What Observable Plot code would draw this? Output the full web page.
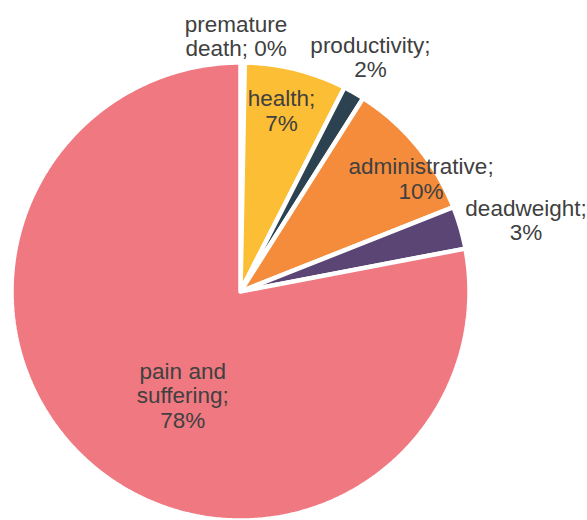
<!DOCTYPE html>
<html>
<head>
<meta charset="utf-8">
<script src="https://cdn.jsdelivr.net/npm/d3@7"></script>
<script src="https://cdn.jsdelivr.net/npm/@observablehq/plot@0.6"></script>
<style>
  html, body { margin: 0; padding: 0; background: #fff; }
  #chart svg { display: block; }
</style>
</head>
<body>
<div id="chart"></div>
<script>
// ---- data ----
const categories = ["premature death", "health", "productivity", "administrative", "deadweight", "pain and suffering"];
const values = [0.3, 7.2, 1.5, 10, 3, 78];
const labels = ["premature\ndeath; 0%", "health;\n7%", "productivity;\n2%", "administrative;\n10%", "deadweight;\n3%", "pain and\nsuffering;\n78%"];
const colors = ["#f07a81", "#fbbe34", "#2d4250", "#f58c3c", "#5b4575", "#f07880"];

// ---- layout ----
const W = 587, H = 520, cx = 240, cy = 291, R = 229;
// label placement: angle in degrees (clockwise from 12 o'clock), radius as fraction of R
const labelPos = [
  {a: -1, r: 1.115},
  {a: 12.8, r: 0.81},
  {a: 29, r: 1.17},
  {a: 58, r: 0.93},
  {a: 76, r: 1.285},
  {a: 209, r: 0.52}
];

const rows = categories.map((c, i) => ({cat: c, value: values[i], label: labels[i]}));
const arcs = d3.pie().sort(null).value(d => d.value)(rows);

// polygon points for each slice
const poly = [];
arcs.forEach(a => {
  const c = a.data.cat;
  poly.push({cat: c, x: 0, y: 0});
  const n = Math.max(2, Math.ceil((a.endAngle - a.startAngle) / (Math.PI / 360)));
  for (let k = 0; k <= n; k++) {
    const t = a.startAngle + (a.endAngle - a.startAngle) * k / n;
    poly.push({cat: c, x: R * Math.sin(t), y: R * Math.cos(t)});
  }
  poly.push({cat: c, x: 0, y: 0});
});

const textRows = rows.map((d, i) => {
  const t = labelPos[i].a * Math.PI / 180;
  return {label: d.label, x: labelPos[i].r * R * Math.sin(t), y: labelPos[i].r * R * Math.cos(t)};
});

const chart = Plot.plot({
  width: W,
  height: H,
  margin: 0,
  x: {domain: [-cx, W - cx], axis: null},
  y: {domain: [-(H - cy), cy], axis: null},
  color: {domain: categories, range: colors},
  style: {background: "#fff", fontFamily: "'Liberation Sans', Arial, sans-serif"},
  marks: [
    Plot.line(poly, {x: "x", y: "y", z: "cat", fill: "cat", stroke: "#fff", strokeWidth: 4.5, strokeLinejoin: "miter", curve: "linear"}),
    Plot.text(textRows, {x: "x", y: "y", text: "label", fontSize: 22.5, lineHeight: 1.08, fill: "#404040", textAnchor: "middle"})
  ]
});
document.getElementById("chart").appendChild(chart);
</script>
</body>
</html>
